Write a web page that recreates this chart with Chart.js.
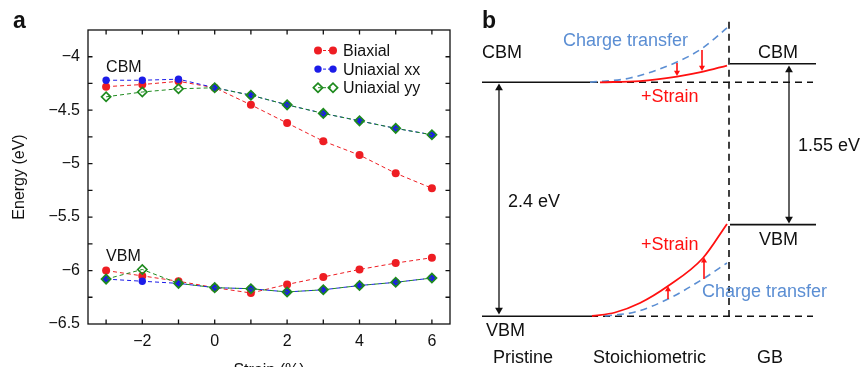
<!DOCTYPE html>
<html>
<head>
<meta charset="utf-8">
<script src="https://cdn.jsdelivr.net/npm/chart.js@4.4.0/dist/chart.umd.min.js"></script>
<style>
  html, body { margin: 0; padding: 0; background: #fff; overflow: hidden; }
  #wrapA { position: absolute; left: 0; top: 0; }
  #wrapB { position: absolute; left: 450px; top: 0; }
</style>
</head>
<body>
<div id="wrapA"><canvas id="chartA" width="452" height="385"></canvas></div>
<div id="wrapB"><canvas id="chartB" width="411" height="367"></canvas></div>
<script>
// ---- panel a: band edges vs strain ----
const strain = [-3, -2, -1, 0, 1, 2, 3, 4, 5, 6];
const biaxialCBM = [-4.28, -4.26, -4.23, -4.29, -4.45, -4.62, -4.79, -4.92, -5.09, -5.23];
const uniXxCBM   = [-4.22, -4.22, -4.21, -4.29, -4.36, -4.45, -4.53, -4.60, -4.67, -4.73];
const uniYyCBM   = [-4.375, -4.33, -4.30, -4.29, -4.36, -4.45, -4.53, -4.60, -4.67, -4.73];
const biaxialVBM = [-6.00, -6.05, -6.10, -6.16, -6.21, -6.13, -6.06, -5.99, -5.93, -5.88];
const uniXxVBM   = [-6.08, -6.10, -6.12, -6.16, -6.17, -6.20, -6.18, -6.14, -6.11, -6.07];
const uniYyVBM   = [-6.08, -5.99, -6.12, -6.16, -6.17, -6.20, -6.18, -6.14, -6.11, -6.07];
const seriesNames = ['Biaxial', 'Uniaxial xx', 'Uniaxial yy'];

// ---- panel b: schematic band diagram ----
// x = position (grain boundary at 0), y = energy in eV (pristine CBM at 0)
const pristineX = [-24.7, -13.8];
const refDashX = [-13.8, 8.4];
const gbX = [0.1, 8.7];
const levelCBM = 0, levelVBM = -2.4, gbCBM = 0.19, gbVBM = -1.46;
const gbWallY = [0.62, -2.4];
const ctCbmX = [-13.9, -9.9, -5.2, -2.7, -0.2];
const ctCbmY = [0, 0.044, 0.208, 0.347, 0.557];
const stCbmX = [-12.9, -8.9, -5.2, -2.7, -0.2];
const stCbmY = [0, 0.013, 0.059, 0.106, 0.172];
const stVbmX = [-13.7, -11.4, -8.9, -6.1, -2.6, -0.2];
const stVbmY = [-2.397, -2.361, -2.264, -2.090, -1.802, -1.453];
const ctVbmX = [-12.4, -9.4, -6.1, -2.6, -0.2];
const ctVbmY = [-2.397, -2.356, -2.223, -2.017, -1.853];
// [x, from, to]
const shiftArrows = [[-5.2, 0.198, 0.100], [-2.7, 0.331, 0.152], [-6.1, -2.223, -2.125], [-2.5, -2.017, -1.830]];
const gapArrows = [[-23.0, -0.058, -2.335], [6.0, 0.126, -1.402]];

Chart.defaults.font.family = '"Liberation Sans", Arial, Helvetica, sans-serif';
Chart.defaults.font.size = 16;
Chart.defaults.color = '#111';
Chart.defaults.animation = false;

const RED = '#ee1d23', BLUE = '#1c1ce8', GREEN = '#1e8a1e';
const LBLUE = '#5b8ed3', BRIGHTRED = '#ff1010', INK = '#111';
const FONT = '"Liberation Sans", Arial, Helvetica, sans-serif';

const marks = [
  { color: RED,   style: 'circle',  r: 4,   fill: RED,   bw: 0,   order: 3 },
  { color: BLUE,  style: 'circle',  r: 3.7, fill: BLUE,  bw: 0,   order: 2 },
  { color: GREEN, style: 'rectRot', r: 4.6, fill: 'rgba(255,255,255,0)', bw: 1.7, order: 1 }
];

function series(ys, m) {
  return {
    data: strain.map((x, i) => ({ x: x, y: ys[i] })),
    showLine: true,
    borderColor: m.color,
    borderWidth: 1,
    borderDash: [4, 3],
    pointStyle: m.style,
    pointRadius: m.r,
    pointBackgroundColor: m.fill,
    pointBorderColor: m.color,
    pointBorderWidth: m.bw,
    order: m.order
  };
}

const minus = v => String(v).replace('-', '\u2212');

const frameA = {
  id: 'frameA',
  afterDraw(chart) {
    const { ctx, chartArea: a, scales: { x, y } } = chart;
    ctx.save();
    ctx.strokeStyle = INK;
    ctx.lineWidth = 1.3;
    ctx.strokeRect(a.left, a.top, a.right - a.left, a.bottom - a.top);
    ctx.beginPath();
    x.ticks.forEach(t => {
      if (t.value <= x.min || t.value >= x.max) return;
      const px = x.getPixelForValue(t.value);
      ctx.moveTo(px, a.top); ctx.lineTo(px, a.top + 4.5);
      ctx.moveTo(px, a.bottom); ctx.lineTo(px, a.bottom - 4.5);
    });
    y.ticks.forEach(t => {
      if (t.value <= y.min || t.value >= y.max) return;
      const py = y.getPixelForValue(t.value);
      ctx.moveTo(a.left, py); ctx.lineTo(a.left + 4.5, py);
      ctx.moveTo(a.right, py); ctx.lineTo(a.right - 4.5, py);
    });
    ctx.stroke();

    // band labels
    ctx.fillStyle = INK;
    ctx.font = '16px ' + FONT;
    ctx.textBaseline = 'alphabetic';
    ctx.fillText('CBM', x.getPixelForValue(-3.0), y.getPixelForValue(-4.14));
    ctx.fillText('VBM', x.getPixelForValue(-3.0), y.getPixelForValue(-5.91));

    // legend: two markers joined by a dashed line
    const lx0 = a.right - 132, lx1 = a.right - 117, tx = a.right - 107;
    seriesNames.forEach((name, i) => {
      const m = marks[i];
      const ly = a.top + 20.5 + i * 18.6;
      ctx.save();
      ctx.strokeStyle = m.color;
      ctx.lineWidth = 1;
      ctx.setLineDash([3, 2]);
      ctx.beginPath(); ctx.moveTo(lx0, ly); ctx.lineTo(lx1, ly); ctx.stroke();
      ctx.restore();
      [lx0, lx1].forEach(px => {
        ctx.fillStyle = m.fill;
        ctx.strokeStyle = m.color;
        ctx.lineWidth = m.bw;
        Chart.helpers.drawPoint(ctx, { pointStyle: m.style, radius: m.r, rotation: 0, borderWidth: m.bw }, px, ly);
      });
      ctx.fillStyle = INK;
      ctx.textBaseline = 'middle';
      ctx.fillText(name, tx, ly + 1);
    });

    // panel letter
    ctx.font = 'bold 23px ' + FONT;
    ctx.textBaseline = 'alphabetic';
    ctx.fillText('a', 13, 28);
    ctx.restore();
  }
};

new Chart(document.getElementById('chartA'), {
  type: 'scatter',
  data: {
    datasets: [
      series(biaxialCBM, marks[0]), series(uniXxCBM, marks[1]), series(uniYyCBM, marks[2]),
      series(biaxialVBM, marks[0]), series(uniXxVBM, marks[1]), series(uniYyVBM, marks[2])
    ]
  },
  options: {
    responsive: false,
    events: [],
    layout: { autoPadding: false, padding: { left: 0, right: 2, top: 30, bottom: 0 } },
    plugins: { legend: { display: false }, tooltip: { enabled: false } },
    scales: {
      x: {
        type: 'linear', min: -3.5, max: 6.5,
        grid: { display: false, drawTicks: false },
        border: { display: false },
        afterBuildTicks: s => { s.ticks = strain.map(v => ({ value: v })); },
        ticks: { padding: 8, color: INK, callback: v => (v % 2 === 0 ? minus(v) : '') },
        title: { display: true, text: 'Strain (%)', color: INK, font: { size: 16 }, padding: { top: 0, bottom: 5 } },
        afterFit: s => { s.height = 61; }
      },
      y: {
        type: 'linear', min: -6.5, max: -3.75,
        grid: { display: false, drawTicks: false },
        border: { display: false },
        ticks: {
          stepSize: 0.25, padding: 8, color: INK,
          callback: v => (Math.abs(v * 2 - Math.round(v * 2)) < 1e-6 ? minus(v) : '')
        },
        title: { display: true, text: 'Energy (eV)', color: INK, font: { size: 16 }, padding: { top: 10, bottom: 0 } },
        afterFit: s => { s.width = 88; }
      }
    }
  },
  plugins: [frameA]
});

// ---- panel b ----
function lineSet(xs, ys, color, width, dash, order) {
  return {
    data: xs.map((x, i) => ({ x: x, y: ys[i] })),
    showLine: true,
    borderColor: color,
    borderWidth: width,
    borderDash: dash || [],
    pointRadius: 0,
    cubicInterpolationMode: 'monotone',
    order: order || 0
  };
}

function arrowSet(x, y0, y1, color, width, r, both) {
  return {
    data: [{ x: x, y: y0 }, { x: x, y: y1 }],
    showLine: true,
    borderColor: color,
    borderWidth: width,
    pointStyle: 'triangle',
    pointRadius: [both ? r : 0, r],
    pointRotation: [y0 > y1 ? 0 : 180, y1 > y0 ? 0 : 180],
    pointBackgroundColor: color,
    pointBorderColor: color,
    pointBorderWidth: 0,
    order: 0
  };
}

const flat = (xs, v) => xs.map(() => v);

const bDatasets = [
  lineSet(pristineX, flat(pristineX, levelCBM), INK, 1.6, null, 5),
  lineSet(pristineX, flat(pristineX, levelVBM), INK, 1.6, null, 5),
  lineSet(refDashX, flat(refDashX, levelCBM), INK, 1.6, [7, 5], 5),
  lineSet(refDashX, flat(refDashX, levelVBM), INK, 1.6, [7, 5], 5),
  lineSet([0, 0], gbWallY, INK, 1.6, [7, 5], 5),
  lineSet(gbX, flat(gbX, gbCBM), INK, 1.6, null, 5),
  lineSet(gbX, flat(gbX, gbVBM), INK, 1.6, null, 5),
  lineSet(ctCbmX, ctCbmY, LBLUE, 1.6, [7, 5], 3),
  lineSet(ctVbmX, ctVbmY, LBLUE, 1.6, [7, 5], 3),
  lineSet(stCbmX, stCbmY, BRIGHTRED, 1.8, null, 2),
  lineSet(stVbmX, stVbmY, BRIGHTRED, 1.8, null, 2)
];
shiftArrows.forEach(a => bDatasets.push(arrowSet(a[0], a[1], a[2], BRIGHTRED, 1.6, 3.5, false)));
gapArrows.forEach(a => bDatasets.push(arrowSet(a[0], a[1], a[2], INK, 1.3, 4.5, true)));

const bLabels = [
  ['b', -24.7, 0.557, INK, 'bold 23px'],
  ['Charge transfer', -16.6, 0.372, LBLUE, '18px'],
  ['+Strain', -8.8, -0.197, BRIGHTRED, '18px'],
  ['CBM', -24.7, 0.249, INK, '18px'],
  ['CBM', 2.9, 0.249, INK, '18px'],
  ['1.55 eV', 6.9, -0.705, INK, '18px'],
  ['2.4 eV', -22.1, -1.279, INK, '18px'],
  ['VBM', 3.0, -1.669, INK, '18px'],
  ['+Strain', -8.8, -1.72, BRIGHTRED, '18px'],
  ['Charge transfer', -2.7, -2.202, LBLUE, '18px'],
  ['VBM', -24.3, -2.597, INK, '18px'],
  ['Pristine', -23.6, -2.879, INK, '18px'],
  ['Stoichiometric', -13.6, -2.879, INK, '18px'],
  ['GB', 2.8, -2.879, INK, '18px']
];

const textB = {
  id: 'textB',
  afterDraw(chart) {
    const { ctx, scales: { x, y } } = chart;
    ctx.save();
    ctx.textBaseline = 'alphabetic';
    ctx.textAlign = 'left';
    bLabels.forEach(l => {
      ctx.font = l[4] + ' ' + FONT;
      ctx.fillStyle = l[3];
      ctx.fillText(l[0], x.getPixelForValue(l[1]), y.getPixelForValue(l[2]));
    });
    ctx.restore();
  }
};

new Chart(document.getElementById('chartB'), {
  type: 'scatter',
  data: { datasets: bDatasets },
  options: {
    responsive: false,
    events: [],
    layout: { autoPadding: false, padding: 0 },
    plugins: { legend: { display: false }, tooltip: { enabled: false } },
    scales: {
      x: { type: 'linear', display: false, min: -27.9, max: 13.2 },
      y: { type: 'linear', display: false, min: -2.92, max: 0.844 }
    }
  },
  plugins: [textB]
});
</script>
</body>
</html>
